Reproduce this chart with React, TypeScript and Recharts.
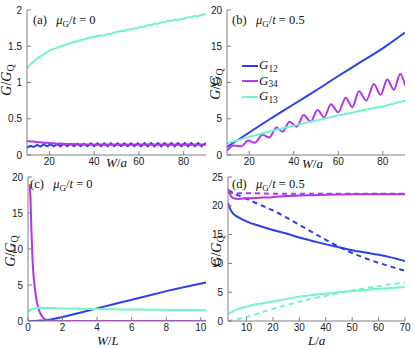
import React from "react";
import { LineChart, Line, XAxis, YAxis, Legend } from "recharts";

const BLUE = "#2a3ff0";
const PURPLE = "#b334ef";
const CYAN = "#72f2d2";
const AXIS = "#808080";
const FONT_TICK = '"Liberation Sans", Arial, Helvetica, sans-serif';
const FONT_TEX = '"Liberation Serif", "Times New Roman", serif';

// (a) mu_G/t = 0, G vs W/a
const aX = [
  10, 11.5, 13, 14.5, 16, 17.5, 19, 20.5, 22, 23.5, 25, 26.5, 28, 29.5, 31, 32.5, 34, 35.5,
  37, 38.5, 40, 41.5, 43, 44.5, 46, 47.5, 49, 50.5, 52, 53.5, 55, 56.5, 58, 59.5, 61, 62.5,
  64, 65.5, 67, 68.5, 70, 71.5, 73, 74.5, 76, 77.5, 79, 80.5, 82, 83.5, 85, 86.5, 88, 90,
];
const aG12 = [
  0.1, 0.125, 0.11, 0.14, 0.115, 0.145, 0.12, 0.15, 0.12, 0.15, 0.12, 0.155, 0.12, 0.155,
  0.12, 0.155, 0.12, 0.155, 0.12, 0.16, 0.12, 0.16, 0.12, 0.16, 0.12, 0.16, 0.12, 0.16,
  0.12, 0.16, 0.12, 0.16, 0.12, 0.16, 0.12, 0.165, 0.12, 0.165, 0.12, 0.165, 0.12, 0.165,
  0.12, 0.165, 0.12, 0.165, 0.12, 0.165, 0.12, 0.165, 0.12, 0.165, 0.12, 0.165,
];
const aG34 = [
  0.195, 0.185, 0.186, 0.176, 0.176, 0.168, 0.168, 0.161, 0.162, 0.156, 0.157, 0.152, 0.153,
  0.149, 0.15, 0.146, 0.148, 0.144, 0.146, 0.142, 0.145, 0.141, 0.145, 0.141, 0.144, 0.14,
  0.144, 0.14, 0.144, 0.14, 0.144, 0.14, 0.144, 0.14, 0.144, 0.14, 0.144, 0.14, 0.144, 0.14,
  0.144, 0.14, 0.144, 0.14, 0.144, 0.14, 0.144, 0.14, 0.144, 0.14, 0.144, 0.14, 0.144, 0.14,
];
const aG13 = [
  1.2, 1.25, 1.29, 1.33, 1.36, 1.39, 1.42, 1.45, 1.46, 1.48, 1.5, 1.51, 1.53, 1.54, 1.56,
  1.57, 1.59, 1.59, 1.61, 1.62, 1.63, 1.64, 1.65, 1.65, 1.67, 1.67, 1.69, 1.7, 1.71, 1.71,
  1.73, 1.73, 1.75, 1.75, 1.77, 1.77, 1.79, 1.79, 1.81, 1.81, 1.83, 1.83, 1.85, 1.85, 1.87,
  1.86, 1.88, 1.88, 1.9, 1.9, 1.92, 1.91, 1.93, 1.94,
];

// (b) mu_G/t = 0.5, G vs W/a
const bX = [10, 15, 20, 25, 30, 35, 40, 45, 50, 55, 60, 65, 70, 75, 80, 85, 90];
const bG12 = [1.1, 2.1, 3.1, 4.1, 5.1, 6.05, 7.0, 7.95, 8.9, 9.9, 10.9, 11.85, 12.8, 13.75, 14.7, 15.8, 16.9];
const bG13 = [1.6, 2.05, 2.5, 2.9, 3.3, 3.7, 4.05, 4.4, 4.75, 5.1, 5.45, 5.75, 6.1, 6.4, 6.7, 7.1, 7.5];
const bG34X = [
  10, 13, 16.5, 19.5, 22.5, 26, 29, 32.2, 35, 38.1, 41.3, 44.5, 47.6, 50.7, 53.7, 56.7, 60,
  63.4, 66.3, 69.3, 72.6, 76, 79, 82, 85, 87.9, 90,
];
const bG34 = [
  0.6, 1.3, 1.2, 2.0, 1.7, 2.8, 2.4, 3.8, 3.2, 4.6, 3.9, 5.5, 4.6, 6.2, 5.2, 7.0, 5.9, 7.9,
  6.6, 8.8, 7.5, 9.8, 8.3, 10.4, 9.0, 11.2, 9.6,
];

// (c) mu_G/t = 0, G vs W/L
const cG12X = [0, 0.5, 0.8, 1.0, 1.3, 1.6, 2, 3, 4, 5, 6, 7, 8, 9, 10.3];
const cG12 = [0, 0.02, 0.08, 0.12, 0.2, 0.35, 0.55, 1.15, 1.75, 2.35, 2.95, 3.55, 4.15, 4.7, 5.35];
const cG34X = [0.1, 0.15, 0.2, 0.25, 0.3, 0.4, 0.5, 0.6, 0.75, 0.9, 1.1, 1.5, 2, 4, 6, 8, 10.3];
const cG34 = [19, 16.5, 12.5, 9.3, 7, 4.5, 2.8, 1.8, 0.9, 0.4, 0.15, 0.03, 0, 0, 0, 0, 0];
const cG13X = [0, 0.2, 0.4, 0.7, 1, 1.5, 2, 3, 4, 5, 6, 7, 8, 9, 10.3];
const cG13 = [1.35, 1.6, 1.75, 1.82, 1.82, 1.79, 1.75, 1.7, 1.65, 1.62, 1.6, 1.57, 1.55, 1.53, 1.5];

// (d) mu_G/t = 0.5, G vs L/a (solid and dashed)
const dX = [3, 4, 5, 7, 10, 15, 20, 25, 30, 35, 40, 45, 50, 55, 60, 65, 70];
const dG12 = [20.5, 19.3, 18.6, 18.0, 17.3, 16.5, 15.8, 15.2, 14.5, 13.9, 13.3, 12.8, 12.3, 11.9, 11.5, 11.0, 10.4];
const dG12b = [22.7, 22.5, 22.2, 21.8, 21.2, 20.2, 19.2, 18.0, 16.7, 15.4, 14.1, 12.9, 11.8, 10.9, 10.1, 9.4, 8.7];
const dG34 = [23.0, 21.8, 21.3, 21.2, 21.3, 21.4, 21.5, 21.7, 21.8, 21.85, 21.9, 21.95, 22.0, 22.0, 22.0, 22.0, 22.0];
const dG34b = [22.3, 22.25, 22.2, 22.2, 22.2, 22.15, 22.1, 22.1, 22.1, 22.1, 22.1, 22.1, 22.1, 22.1, 22.1, 22.1, 22.1];
const dG13 = [1.2, 1.45, 1.7, 2.1, 2.5, 3.0, 3.4, 3.8, 4.2, 4.5, 4.75, 5.0, 5.2, 5.4, 5.6, 5.75, 5.9];
const dG13b = [0, 0.07, 0.15, 0.35, 0.7, 1.4, 2.1, 2.75, 3.35, 3.9, 4.4, 4.85, 5.3, 5.7, 6.05, 6.4, 6.7];

const legendOrder = ["G12", "G34", "G13"];

const pts = (xs: number[], ys: number[]) => xs.map((x, i) => ({ x, y: ys[i] }));

type LineSpec = {
  id: string;
  data: { x: number; y: number }[];
  color: string;
  dash?: string;
  name?: string;
  curve?: "linear" | "monotone";
};

const Sub = ({ children }: { children: React.ReactNode }) => (
  <span style={{ fontSize: "0.72em", position: "relative", top: "0.32em", fontStyle: "normal" }}>
    {children}
  </span>
);

function LegendBox(props: any) {
  const items = [...(props.payload || [])].sort(
    (a: any, b: any) => legendOrder.indexOf(a.value) - legendOrder.indexOf(b.value)
  );
  return (
    <div style={{ fontFamily: FONT_TEX, fontSize: 13, lineHeight: "15.5px", color: "#111" }}>
      {items.map((it: any) => (
        <div key={it.value} style={{ display: "flex", alignItems: "center", height: 15.5 }}>
          <svg width={16} height={4} style={{ marginRight: 1 }}>
            <line x1={0} y1={2} x2={16} y2={2} stroke={it.color} strokeWidth={2} />
          </svg>
          <span>
            <i>G</i>
            <Sub>{String(it.value).slice(1)}</Sub>
          </span>
        </div>
      ))}
    </div>
  );
}

function Panel(p: {
  left: number;
  top: number;
  width: number;
  height: number;
  plotLeft: number;
  plotRight: number;
  plotTop: number;
  xAxisH: number;
  xDomain: [number, number];
  xTicks: number[];
  yDomain: [number, number];
  yTicks: number[];
  lines: LineSpec[];
  legend?: boolean;
}) {
  const tickFont = { fontSize: 10, fill: "#1a1a1a", fontFamily: FONT_TICK };
  const blank = () => "";
  return (
    <div style={{ position: "absolute", left: p.left, top: p.top, width: p.width, height: p.height }}>
      <LineChart
        width={p.width}
        height={p.height}
        margin={{ top: p.plotTop, right: p.width - p.plotRight, bottom: 0, left: 0 }}
      >
        <XAxis
          dataKey="x"
          type="number"
          domain={p.xDomain}
          ticks={p.xTicks}
          allowDataOverflow
          interval={0}
          height={p.xAxisH}
          stroke={AXIS}
          tickSize={-4}
          tickMargin={7}
          tick={tickFont}
        />
        <XAxis
          xAxisId="top"
          orientation="top"
          type="number"
          domain={p.xDomain}
          ticks={p.xTicks}
          allowDataOverflow
          interval={0}
          height={0}
          stroke={AXIS}
          tickSize={-4}
          tickFormatter={blank}
        />
        <YAxis
          type="number"
          domain={p.yDomain}
          ticks={p.yTicks}
          allowDataOverflow
          interval={0}
          width={p.plotLeft}
          stroke={AXIS}
          tickSize={-4}
          tickMargin={9}
          tick={tickFont}
        />
        <YAxis
          yAxisId="right"
          orientation="right"
          type="number"
          domain={p.yDomain}
          ticks={p.yTicks}
          allowDataOverflow
          interval={0}
          width={0}
          stroke={AXIS}
          tickSize={-4}
          tickFormatter={blank}
        />
        {p.lines.map((l) => (
          <Line
            key={l.id}
            data={l.data}
            dataKey="y"
            name={l.name ?? l.id}
            type={l.curve ?? "linear"}
            stroke={l.color}
            strokeWidth={2}
            strokeDasharray={l.dash}
            dot={false}
            activeDot={false}
            isAnimationActive={false}
          />
        ))}
        {p.legend && (
          <Legend
            layout="vertical"
            align="center"
            verticalAlign="middle"
            wrapperStyle={{ left: 37, top: 58, width: 60, height: 48 }}
            content={LegendBox}
          />
        )}
      </LineChart>
    </div>
  );
}

function Title({ x, y, tag, value }: { x: number; y: number; tag: string; value: string }) {
  return (
    <div
      style={{
        position: "absolute",
        left: x,
        top: y,
        fontFamily: FONT_TEX,
        fontSize: 12.5,
        lineHeight: 1,
        whiteSpace: "nowrap",
        color: "#111",
      }}
    >
      ({tag})&nbsp;&nbsp;&nbsp;<i>μ</i>
      <Sub>G</Sub>/<i>t</i> = {value}
    </div>
  );
}

function XLabel({ x, y, a, b }: { x: number; y: number; a: string; b: string }) {
  return (
    <div
      style={{
        position: "absolute",
        left: x,
        top: y,
        fontFamily: FONT_TEX,
        fontSize: 13,
        lineHeight: 1,
        whiteSpace: "nowrap",
        color: "#111",
      }}
    >
      <i>{a}</i>/<i>{b}</i>
    </div>
  );
}

function YLabel({ cx, cy }: { cx: number; cy: number }) {
  return (
    <div
      style={{
        position: "absolute",
        left: cx,
        top: cy,
        transform: "translate(-50%, -50%) rotate(-90deg)",
        fontFamily: FONT_TEX,
        fontSize: 14,
        lineHeight: 1,
        whiteSpace: "nowrap",
        color: "#111",
      }}
    >
      <i>G</i>/<i>G</i>
      <Sub>Q</Sub>
    </div>
  );
}

export default function App() {
  return (
    <div
      style={{
        position: "absolute",
        left: 0,
        top: 0,
        width: 415,
        height: 349,
        background: "#fff",
        overflow: "hidden",
      }}
    >
      <style>{"svg.recharts-surface { overflow: visible; }"}</style>
      <Panel
        left={0}
        top={0}
        width={210}
        height={175}
        plotLeft={27}
        plotRight={206}
        plotTop={10}
        xAxisH={20}
        xDomain={[10, 90]}
        xTicks={[20, 40, 60, 80]}
        yDomain={[0, 2]}
        yTicks={[0, 0.5, 1, 1.5, 2]}
        lines={[
          { id: "G12", data: pts(aX, aG12), color: BLUE },
          { id: "G34", data: pts(aX, aG34), color: PURPLE },
          { id: "G13", data: pts(aX, aG13), color: CYAN },
        ]}
      />
      <Panel
        left={205}
        top={0}
        width={210}
        height={175}
        plotLeft={22}
        plotRight={200}
        plotTop={10}
        xAxisH={20}
        xDomain={[10, 90]}
        xTicks={[20, 40, 60, 80]}
        yDomain={[0, 20]}
        yTicks={[0, 5, 10, 15, 20]}
        legend
        lines={[
          { id: "G12", data: pts(bX, bG12), color: BLUE },
          { id: "G34", data: pts(bG34X, bG34), color: PURPLE, curve: "monotone" },
          { id: "G13", data: pts(bX, bG13), color: CYAN },
        ]}
      />
      <Panel
        left={0}
        top={175}
        width={210}
        height={174}
        plotLeft={28}
        plotRight={206}
        plotTop={2}
        xAxisH={28}
        xDomain={[0, 10.3]}
        xTicks={[0, 2, 4, 6, 8, 10]}
        yDomain={[0, 20]}
        yTicks={[0, 5, 10, 15, 20]}
        lines={[
          { id: "G12", data: pts(cG12X, cG12), color: BLUE },
          { id: "G34", data: pts(cG34X, cG34), color: PURPLE, curve: "monotone" },
          { id: "G13", data: pts(cG13X, cG13), color: CYAN, curve: "monotone" },
        ]}
      />
      <Panel
        left={205}
        top={175}
        width={210}
        height={174}
        plotLeft={23}
        plotRight={200}
        plotTop={2}
        xAxisH={28}
        xDomain={[3, 70]}
        xTicks={[10, 20, 30, 40, 50, 60, 70]}
        yDomain={[0, 25]}
        yTicks={[0, 5, 10, 15, 20, 25]}
        lines={[
          { id: "G12", data: pts(dX, dG12), color: BLUE, curve: "monotone" },
          { id: "G12b", data: pts(dX, dG12b), color: BLUE, dash: "5 4", curve: "monotone" },
          { id: "G34", data: pts(dX, dG34), color: PURPLE, curve: "monotone" },
          { id: "G34b", data: pts(dX, dG34b), color: PURPLE, dash: "5 4", curve: "monotone" },
          { id: "G13", data: pts(dX, dG13), color: CYAN, curve: "monotone" },
          { id: "G13b", data: pts(dX, dG13b), color: CYAN, dash: "5 4", curve: "monotone" },
        ]}
      />

      <Title x={33} y={14} tag="a" value="0" />
      <Title x={232} y={14} tag="b" value="0.5" />
      <Title x={30} y={178} tag="c" value="0" />
      <Title x={232} y={178} tag="d" value="0.5" />

      <XLabel x={106} y={156} a="W" b="a" />
      <XLabel x={302} y={157} a="W" b="a" />
      <XLabel x={97} y={334} a="W" b="L" />
      <XLabel x={308} y={334} a="L" b="a" />

      <YLabel cx={7} cy={80} />
      <YLabel cx={216} cy={84} />
      <YLabel cx={11} cy={251} />
      <YLabel cx={217} cy={251} />
    </div>
  );
}
